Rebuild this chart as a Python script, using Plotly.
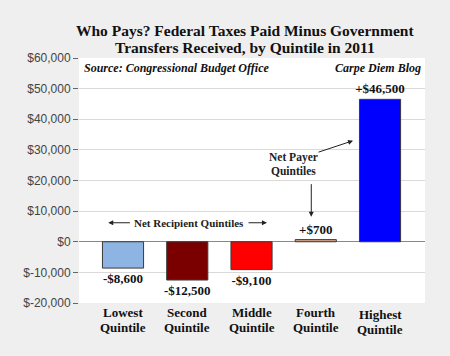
import plotly.graph_objects as go

categories = ["Lowest<br>Quintile", "Second<br>Quintile", "Middle<br>Quintile",
              "Fourth<br>Quintile", "Highest<br>Quintile"]
values = [-8600, -12500, -9100, 700, 46500]
bar_labels = ["-$8,600", "-$12,500", "-$9,100", "+$700", "+$46,500"]
bar_colors = ["#8DB4E2", "#7A0000", "#FF0000", "#D9A58A", "#0000FF"]
tick_values = [-20000, -10000, 0, 10000, 20000, 30000, 40000, 50000, 60000]
tick_labels = ["$-20,000", "$-10,000", "$0", "$10,000", "$20,000", "$30,000",
               "$40,000", "$50,000", "$60,000"]
title_lines = ["Who Pays? Federal Taxes Paid Minus Government",
               "Transfers Received, by Quintile in 2011"]

SERIF = "'Liberation Serif', Georgia, serif"
xpos = list(range(len(categories)))

TOP, BOTTOM = 58, 303  # plot area pixel rows


def py(p):
    """paper y for a pixel row"""
    return (BOTTOM - p) / (BOTTOM - TOP)


fig = go.Figure()
fig.add_trace(go.Bar(
    x=xpos, y=values, width=0.64,
    marker=dict(color=bar_colors, line=dict(color="#3a3a3a", width=1)),
    text=bar_labels, textposition="outside", cliponaxis=False, constraintext="none",
    textfont=dict(family=SERIF, size=13, color="#111111"),
    texttemplate="<b>%{text}</b>",
    hoverinfo="skip",
))

fig.update_layout(
    width=450, height=356,
    margin=dict(l=79, r=25, t=TOP, b=356 - BOTTOM),
    paper_bgcolor="#efefef", plot_bgcolor="#ffffff",
    showlegend=False,
    xaxis=dict(range=[-0.685, 4.70], showticklabels=False,
               showgrid=False, zeroline=False, showline=False, ticks=""),
    yaxis=dict(range=[-20000, 60000], tickvals=tick_values, ticktext=tick_labels,
               tickfont=dict(family="Arial, 'Liberation Sans', sans-serif", size=12, color="#444444"),
               ticks="outside", ticklen=5, tickcolor="#666666",
               showgrid=True, gridcolor="#d9d9d9", gridwidth=1,
               zeroline=True, zerolinecolor="#888888", zerolinewidth=1,
               showline=False),
)

# Title, two tightly spaced lines
for line, ypix in zip(title_lines, [30.5, 48]):
    fig.add_annotation(xref="paper", yref="paper", x=0.48, y=py(ypix),
                       xanchor="center", yanchor="middle", showarrow=False,
                       text="<b>" + line + "</b>",
                       font=dict(family=SERIF, size=15.5, color="#111111"))

# Category labels (two lines each)
for i, cat in enumerate(categories):
    l1, l2 = cat.split("<br>")
    shift = 2 if i == len(categories) - 1 else 0
    for txt, ypix in [(l1, 312 + shift), (l2, 327 + shift)]:
        fig.add_annotation(x=i, xref="x", yref="paper", y=py(ypix),
                           text="<b>" + txt + "</b>", showarrow=False,
                           xanchor="center", yanchor="middle",
                           font=dict(family=SERIF, size=13, color="#111111"))

# Source and blog notes
fig.add_annotation(xref="paper", yref="paper", x=0.01, y=0.995, xanchor="left", yanchor="top",
                   text="<b><i>Source: Congressional Budget Office</i></b>", showarrow=False,
                   font=dict(family=SERIF, size=12, color="#111111"))
fig.add_annotation(xref="paper", yref="paper", x=0.995, y=0.995, xanchor="right", yanchor="top",
                   text="<b><i>Carpe Diem Blog</i></b>", showarrow=False,
                   font=dict(family=SERIF, size=12, color="#111111"))

# Net Recipient Quintiles with arrows on both sides
fig.add_annotation(x=1.03, y=6200, text="<b>Net Recipient Quintiles</b>", showarrow=False,
                   font=dict(family=SERIF, size=11, color="#222222"))
fig.add_annotation(x=-0.23, y=6200, ax=0.13, ay=6200, axref="x", ayref="y",
                   showarrow=True, arrowhead=2, arrowsize=1, arrowwidth=1, arrowcolor="#222222", text="")
fig.add_annotation(x=2.24, y=6200, ax=1.93, ay=6200, axref="x", ayref="y",
                   showarrow=True, arrowhead=2, arrowsize=1, arrowwidth=1, arrowcolor="#222222", text="")

# Net Payer Quintiles with arrows
for txt, yv in [("Net Payer", 27500), ("Quintiles", 23200)]:
    fig.add_annotation(x=2.65, y=yv, text="<b>" + txt + "</b>", showarrow=False,
                       font=dict(family=SERIF, size=11.5, color="#222222"))
fig.add_annotation(x=2.93, y=8200, ax=2.93, ay=19300, axref="x", ayref="y",
                   showarrow=True, arrowhead=2, arrowsize=1, arrowwidth=1, arrowcolor="#222222", text="")
fig.add_annotation(x=3.58, y=33000, ax=3.02, ay=29100, axref="x", ayref="y",
                   showarrow=True, arrowhead=2, arrowsize=1, arrowwidth=1, arrowcolor="#222222", text="")

fig.write_html("out.html", config={"displayModeBar": False},
               post_script="document.body.style.margin='0px';document.body.style.background='#efefef';")
